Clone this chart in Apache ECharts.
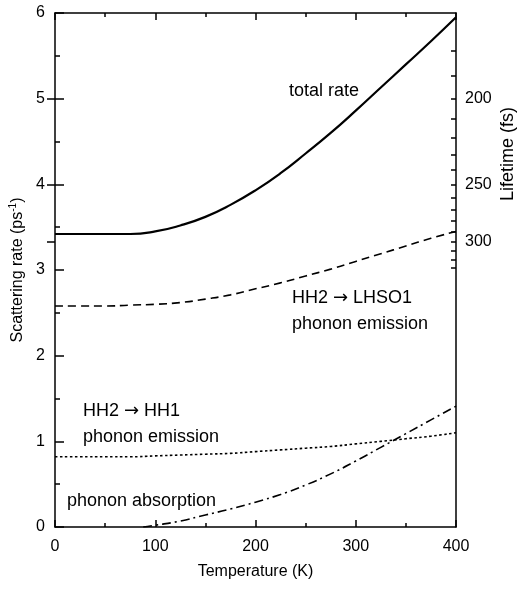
<!DOCTYPE html>
<html>
<head>
<meta charset="utf-8">
<script src="https://cdn.jsdelivr.net/npm/echarts@6/dist/echarts.min.js"></script>
<style>html,body{margin:0;padding:0;background:#fff;}#c{width:519px;height:589px;}</style>
</head>
<body>
<div id="c"></div>
<script>
// ---- data ----
var temps = [0,25,50,75,100,125,150,175,200,225,250,275,300,325,350,375,400];
var totalRate = [3.42,3.42,3.42,3.42,3.45,3.52,3.62,3.76,3.93,4.13,4.36,4.60,4.86,5.13,5.40,5.67,5.95];
var lhso1Emission = [2.58,2.58,2.58,2.59,2.60,2.62,2.66,2.71,2.78,2.85,2.93,3.01,3.10,3.19,3.28,3.37,3.45];
var hh1Emission = [0.82,0.82,0.82,0.82,0.83,0.84,0.85,0.86,0.88,0.90,0.92,0.94,0.97,1.00,1.03,1.06,1.10];
var absTemps = [88,100,125,150,175,200,225,250,275,300,325,350,375,400];
var absorption = [0.00,0.02,0.07,0.14,0.21,0.29,0.38,0.49,0.62,0.77,0.93,1.09,1.25,1.41];
var lifetimeTicks = [180,190,200,210,220,230,240,250,260,270,280,290,300,310,320,330];
var lifetimeLabels = [200,250,300];

function pairs(xs, ys){ return xs.map(function(x,i){ return [x, ys[i]]; }); }
function toRate(l){ return 1000 / l; }

var FONT = 'Liberation Sans, Arial, Helvetica, sans-serif';
var black = '#000';
var ANN = 18;
var annRich = {
  a: {fontFamily: FONT, fontSize: ANN, fill: black},
  r: {fontFamily: 'DejaVu Sans', fontSize: ANN, fill: black}
};

var chart = echarts.init(document.getElementById('c'), null, {renderer:'canvas'});
var option = {
  backgroundColor: '#fff',
  animation: false,
  grid: {left: 55, right: 63, top: 13, bottom: 62, containLabel: false},
  xAxis: [{
    type: 'value', min: 0, max: 400, interval: 100, position: 'bottom',
    name: 'Temperature (K)', nameLocation: 'middle', nameGap: 37,
    nameTextStyle: {fontFamily: FONT, fontSize: 16, color: black},
    axisLine: {show: true, onZero: false, lineStyle: {color: black, width: 1.5}},
    axisTick: {show: true, inside: true, length: 7, lineStyle: {color: black, width: 1.5}},
    minorTick: {show: true, splitNumber: 2, length: 4, lineStyle: {color: black, width: 1.5}},
    axisLabel: {fontFamily: FONT, fontSize: 16, color: black, margin: 12},
    splitLine: {show: false}
  }, {
    type: 'value', min: 0, max: 400, interval: 100, position: 'top',
    axisLine: {show: true, onZero: false, lineStyle: {color: black, width: 1.5}},
    axisTick: {show: true, inside: true, length: 7, lineStyle: {color: black, width: 1.5}},
    minorTick: {show: true, splitNumber: 2, length: 4, lineStyle: {color: black, width: 1.5}},
    axisLabel: {show: false},
    splitLine: {show: false}
  }],
  yAxis: [{
    type: 'value', min: 0, max: 6, interval: 1, position: 'left',
    name: '{a|Scattering rate (ps}{s|-1}{a|)}', nameLocation: 'middle', nameGap: 23,
    nameTextStyle: {fontFamily: FONT, fontSize: 16, color: black,
      rich: {a: {fontFamily: FONT, fontSize: 16, color: black},
             s: {fontFamily: FONT, fontSize: 10, color: black, verticalAlign: 'top', padding: [0,0,8,0]}}},
    axisLine: {show: true, onZero: false, lineStyle: {color: black, width: 1.5}},
    axisTick: {show: true, inside: true, length: 9, lineStyle: {color: black, width: 1.5}},
    minorTick: {show: true, splitNumber: 2, length: 5, lineStyle: {color: black, width: 1.5}},
    axisLabel: {fontFamily: FONT, fontSize: 16, color: black, margin: 10},
    splitLine: {show: false}
  }, {
    type: 'value', min: 0, max: 6, position: 'right',
    axisLine: {show: true, onZero: false, lineStyle: {color: black, width: 1.5}},
    axisTick: {show: true, inside: true, length: 5, lineStyle: {color: black, width: 1.5},
      customValues: lifetimeTicks.map(toRate)},
    axisLabel: {show: false},
    splitLine: {show: false}
  }, {
    type: 'value', min: 0, max: 6, position: 'right',
    axisLine: {show: false},
    axisTick: {show: true, inside: true, length: 8, lineStyle: {color: black, width: 1.5},
      customValues: lifetimeLabels.map(toRate)},
    axisLabel: {show: true, fontFamily: FONT, fontSize: 16, color: black, margin: 9,
      customValues: lifetimeLabels.map(toRate),
      formatter: function(v){ return String(Math.round(1000 / v)); }},
    splitLine: {show: false}
  }],
  series: [{
    name: 'total rate', type: 'line', data: pairs(temps, totalRate),
    smooth: 0.5, showSymbol: false,
    lineStyle: {color: black, width: 2.2, type: 'solid'}
  }, {
    name: 'HH2 → LHSO1 phonon emission', type: 'line', data: pairs(temps, lhso1Emission),
    smooth: 0.5, showSymbol: false,
    lineStyle: {color: black, width: 1.6, type: [8,5]}
  }, {
    name: 'HH2 → HH1 phonon emission', type: 'line', data: pairs(temps, hh1Emission),
    smooth: 0.5, showSymbol: false,
    lineStyle: {color: black, width: 1.6, type: [2.5,2.5]}
  }, {
    name: 'phonon absorption', type: 'line', data: pairs(absTemps, absorption),
    smooth: 0.5, showSymbol: false,
    lineStyle: {color: black, width: 1.6, type: [9,4,2,4]}
  }],
  graphic: [
    {type: 'text', x: 508, y: 154, rotation: Math.PI / 2,
     style: {text: 'Lifetime (fs)', fontFamily: FONT, fontSize: 18, fill: black, align: 'center', verticalAlign: 'middle'}},
    {type: 'text', x: 289, y: 91,
     style: {text: 'total rate', fontFamily: FONT, fontSize: ANN, fill: black, align: 'left', verticalAlign: 'middle'}},
    {type: 'text', x: 292, y: 298,
     style: {text: '{a|HH2 }{r|\u2192}{a| LHSO1}', rich: annRich, fontSize: ANN, align: 'left', verticalAlign: 'middle'}},
    {type: 'text', x: 292, y: 324,
     style: {text: 'phonon emission', fontFamily: FONT, fontSize: ANN, fill: black, align: 'left', verticalAlign: 'middle'}},
    {type: 'text', x: 83, y: 411,
     style: {text: '{a|HH2 }{r|\u2192}{a| HH1}', rich: annRich, fontSize: ANN, align: 'left', verticalAlign: 'middle'}},
    {type: 'text', x: 83, y: 437,
     style: {text: 'phonon emission', fontFamily: FONT, fontSize: ANN, fill: black, align: 'left', verticalAlign: 'middle'}},
    {type: 'text', x: 67, y: 501,
     style: {text: 'phonon absorption', fontFamily: FONT, fontSize: ANN, fill: black, align: 'left', verticalAlign: 'middle'}}
  ]
};
chart.setOption(option);
</script>
</body>
</html>
